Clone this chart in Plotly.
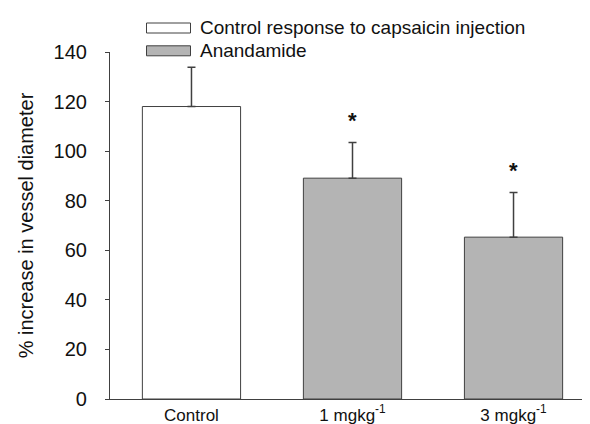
import plotly.graph_objects as go

categories = ["Control", "1 mgkg<sup>-1</sup>", "3 mgkg<sup>-1</sup>"]
means = [118.0, 89.1, 65.3]
sem_upper = [15.8, 14.4, 18.0]
bar_colors = ["#ffffff", "#b4b4b4", "#b4b4b4"]
star_cats = ["1 mgkg<sup>-1</sup>", "3 mgkg<sup>-1</sup>"]
star_y = [112.5, 92.0]
legend_labels = ["Control response to capsaicin injection", "Anandamide"]
legend_colors = ["#ffffff", "#b4b4b4"]
y_ticks = [0, 20, 40, 60, 80, 100, 120, 140]

font_family = "Liberation Sans, Arial, sans-serif"
line_col = "#404040"
text_col = "#111111"

fig = go.Figure()
fig.add_trace(go.Bar(
    x=categories, y=means,
    marker=dict(color=bar_colors, line=dict(color=line_col, width=1)),
    width=0.61,
    error_y=dict(type="data", array=sem_upper, arrayminus=[0]*len(sem_upper),
                 symmetric=False, color=line_col, thickness=1.5, width=4),
    showlegend=False,
))

for c, yv in zip(star_cats, star_y):
    fig.add_annotation(x=c, y=yv, text="<b>*</b>", showarrow=False,
                       font=dict(size=22, color=text_col, family=font_family),
                       xref="x", yref="y")

# custom legend
W, H = 590, 424
ml, mr, mt, mb = 102, 3, 44, 33
pw, ph = W - ml - mr, H - mt - mb
def px_to_paper_x(px):
    return (px - ml) / pw
def px_to_paper_y(py):
    return (H - mb - py) / ph

rows_y = [20.0, 42.8]
for lab, col, yc in zip(legend_labels, legend_colors, rows_y):
    fig.add_shape(type="rect", xref="paper", yref="paper",
                  x0=px_to_paper_x(138.5), x1=px_to_paper_x(182.5),
                  y0=px_to_paper_y(yc + 5), y1=px_to_paper_y(yc - 5),
                  fillcolor=col, line=dict(color=line_col, width=1))
    fig.add_annotation(xref="paper", yref="paper", x=px_to_paper_x(190),
                       y=px_to_paper_y(yc), text=lab, showarrow=False,
                       xanchor="left", yanchor="middle",
                       font=dict(size=19, color=text_col, family=font_family))

fig.update_layout(
    width=W, height=H,
    margin=dict(l=ml, r=mr, t=mt, b=mb),
    plot_bgcolor="white", paper_bgcolor="white",
    font=dict(family=font_family, color=text_col),
)
fig.update_xaxes(
    range=[-0.506, 2.506], showline=True, linecolor=line_col, linewidth=1.2,
    ticks="", showgrid=False, zeroline=False,
    tickfont=dict(size=17, family=font_family, color=text_col),
)
fig.update_yaxes(
    range=[0, 140], tickvals=y_ticks, showline=True, linecolor=line_col, linewidth=1.2,
    ticks="outside", ticklen=4, tickcolor=line_col, showgrid=False, zeroline=False,
    ticklabelstandoff=14,
    tickfont=dict(size=20, family=font_family, color=text_col),
    title=dict(text="% increase in vessel diameter", standoff=14,
               font=dict(size=20, family=font_family, color=text_col)),
)

fig.write_html("out.html")
